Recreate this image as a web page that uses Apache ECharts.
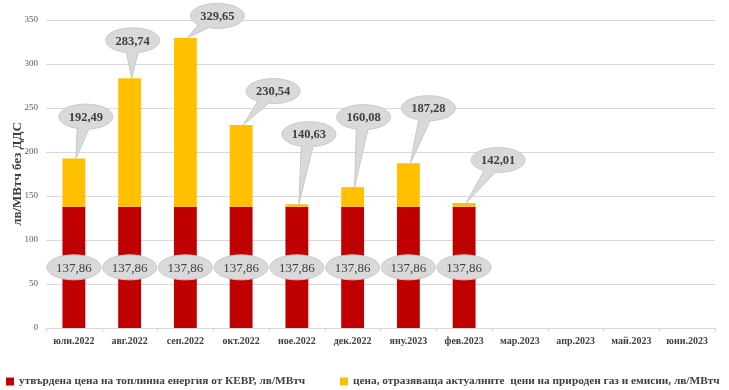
<!DOCTYPE html>
<html><head><meta charset="utf-8">
<script src="https://cdn.jsdelivr.net/npm/echarts@6/dist/echarts.min.js"></script>
<style>html,body{margin:0;padding:0;background:#fff}#c{width:729px;height:390px}</style>
</head><body><div id="c"></div>
<script>
var categories = ['юли.2022','авг.2022','сеп.2022','окт.2022','ное.2022','дек.2022','яну.2023','фев.2023','мар.2023','апр.2023','май.2023','юни.2023'];
var approved = [137.86,137.86,137.86,137.86,137.86,137.86,137.86,137.86,null,null,null,null];
var totals = [192.49,283.74,329.65,230.54,140.63,160.08,187.28,142.01,null,null,null,null];
var yTicks = [0,50,100,150,200,250,300,350];
var seriesNames = ['утвърдена цена на топлинна енергия от КЕВР, лв/МВтч','цена, отразяваща актуалните  цени на природен газ и емисии, лв/МВтч'];

// style: callout bubble offsets (pixels) relative to bar top
var calloutOffset = [[12,-42],[3,-38],[32,-22],[32,-34],[12,-70],[11,-70],[20,-55],[34,-43]];

var extra = totals.map(function(t,i){ return (t==null||approved[i]==null)?null:+(t-approved[i]).toFixed(2); });
function fmt(v){ return v.toFixed(2).replace('.',','); }
var FONT = '"Liberation Serif", "Times New Roman", serif';

function bubblePath(cx, cy, rx, ry, tip){
  var pts = [];
  var N = 60;
  if (tip){
    var th = Math.atan2((tip[1]-cy)/ry, (tip[0]-cx)/rx);
    var gap = 0.22;
    for (var k=0;k<=N;k++){
      var a = th + gap + (2*Math.PI - 2*gap)*k/N;
      pts.push([cx + rx*Math.cos(a), cy + ry*Math.sin(a)]);
    }
    pts.push(tip);
  } else {
    for (var k=0;k<N;k++){
      var a = 2*Math.PI*k/N;
      pts.push([cx + rx*Math.cos(a), cy + ry*Math.sin(a)]);
    }
  }
  return pts;
}

var legendText = {fontFamily:FONT, fontWeight:'bold', fontSize:11.3, color:'#404040'};
var chart = echarts.init(document.getElementById('c'));
chart.setOption({
  animation:false,
  grid:{left:46,right:14,top:20,bottom:62, outerBoundsMode:'none', containLabel:false},
  legend:[
    {left:1, top:371, itemWidth:8, itemHeight:8, itemGap:10, icon:'rect', textStyle:legendText,
     data:[seriesNames[0]]},
    {left:335, top:371, itemWidth:8, itemHeight:8, itemGap:10, icon:'rect', textStyle:legendText,
     data:[seriesNames[1]]}
  ],
  xAxis:{
    type:'category', data:categories,
    axisLine:{lineStyle:{color:'#d9d9d9'}},
    axisTick:{show:true, alignWithLabel:false, length:4, lineStyle:{color:'#d9d9d9'}},
    axisLabel:{fontFamily:FONT, fontWeight:'bold', fontSize:10, color:'#404040', margin:8, interval:0}
  },
  yAxis:{
    type:'value', min:0, max:350, interval:50,
    name:'лв/МВтч без ДДС', nameLocation:'middle', nameGap:22, nameRotate:90, nameMoveOverlap:false,
    nameTextStyle:{fontFamily:FONT, fontWeight:'bold', fontSize:13, color:'#404040'},
    axisLine:{show:false}, axisTick:{show:false},
    axisLabel:{fontFamily:FONT, fontSize:9, color:'#595959', margin:8,
      formatter:function(v){ return yTicks.indexOf(v)>=0 ? String(v) : ''; }},
    splitLine:{lineStyle:{color:'#d9d9d9'}}
  },
  series:[
    {name:seriesNames[0], type:'bar', stack:'a', data:approved, barWidth:'41%',
     itemStyle:{color:'#C00000'}},
    {name:seriesNames[1], type:'bar', stack:'a', data:extra, barWidth:'41%',
     itemStyle:{color:'#FFC000'}},
    {type:'custom', name:'lowLabels', data:approved.map(function(v,i){return [i,v];}), z:5,
     renderItem:function(params, api){
       var v = api.value(1); if (v==null || isNaN(v)) return;
       var p = api.coord([api.value(0), v/2]);
       return {type:'group', children:[
         {type:'polygon', shape:{points:bubblePath(p[0], p[1], 27, 12.5, null)},
          style:{fill:'#d9d9d9', stroke:'#c8c8c8', lineWidth:1}},
         {type:'text', style:{x:p[0], y:p[1]+1, text:fmt(v), align:'center', verticalAlign:'middle',
           font:'13px '+FONT, fill:'#404040'}}
       ]};
     }},
    {type:'custom', name:'topLabels', data:totals.map(function(v,i){return [i,v];}), z:5,
     renderItem:function(params, api){
       var v = api.value(1); if (v==null || isNaN(v)) return;
       var i = api.value(0);
       var top = api.coord([i, v]);
       var off = calloutOffset[i] || [10,-40];
       var cx = top[0]+off[0], cy = top[1]+off[1];
       var tip = [top[0]+2, top[1]];
       return {type:'group', children:[
         {type:'polygon', shape:{points:bubblePath(cx, cy, 27, 12.5, tip)},
          style:{fill:'#d9d9d9', stroke:'#c8c8c8', lineWidth:1}},
         {type:'text', style:{x:cx, y:cy+1, text:fmt(v), align:'center', verticalAlign:'middle',
           font:'bold 12.5px '+FONT, fill:'#404040'}}
       ]};
     }}
  ]
});
</script></body></html>
